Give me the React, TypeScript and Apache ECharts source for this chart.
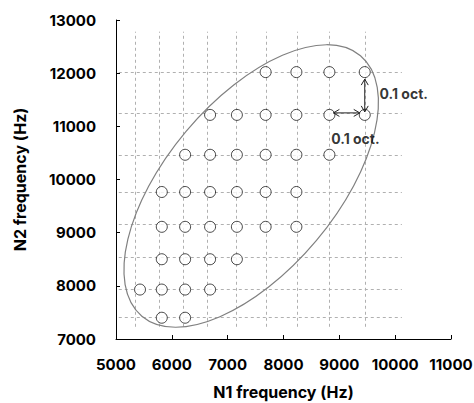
import React, { useEffect, useRef } from "react";
import * as echarts from "echarts";

// N1 column values (Hz) and N2 row values (Hz) of the stimulus grid
const n1Cols = [5430, 5820, 6238, 6685, 7165, 7680, 8231, 8822, 9455];
const n2Rows = [7400, 7930, 8500, 9110, 9765, 10465, 11215, 12020];
// which columns are present in each row
const rowColumns = [
  [1, 2],
  [0, 1, 2, 3],
  [1, 2, 3, 4],
  [1, 2, 3, 4, 5, 6],
  [1, 2, 3, 4, 5, 6],
  [2, 3, 4, 5, 6, 7],
  [3, 4, 5, 6, 7, 8],
  [5, 6, 7, 8],
];
// dashed guide lines
const gridX = [5340, 5775, 6205, 6630, 7160, 7700, 8240, 8820, 9460];
const gridY = [7410, 7940, 8540, 9150, 9760, 10460, 11240, 12025];
const gridXRange = [7230, 12780];
const gridYRange = [5050, 10120];
// axis ticks
const xTicks = { min: 5000, max: 11000, interval: 1000 };
const yTicks = { min: 7000, max: 13000, interval: 1000 };
// annotation arrows [x1, y1, x2, y2]
const arrows = [
  [9455, 12020, 9455, 11215],
  [8822, 11215, 9455, 11215],
];
const arrowLabels = [
  [9720, 11621, "0.1 oct."],
  [8855, 10775, "0.1 oct."],
];
// ellipse centre (data)
const ellipseCenter = [7421, 9878];

const FONT = "Inter, 'Liberation Sans', Arial, sans-serif";

export default function App() {
  const ref = useRef<HTMLDivElement>(null);
  useEffect(() => {
    document.body.style.margin = "0";
    const chart = echarts.init(ref.current!, undefined, { renderer: "svg" });
    const points: number[][] = [];
    rowColumns.forEach((cols, r) => {
      cols.forEach((c) => points.push([n1Cols[c], n2Rows[r]]));
    });
    const gridLines = [
      ...gridX.map((x) => ({ coords: [[x, gridXRange[0]], [x, gridXRange[1]]] })),
      ...gridY.map((y) => ({ coords: [[gridYRange[0], y], [gridYRange[1], y]] })),
    ];
    const axisCommon = {
      type: "value" as const,
      nameLocation: "middle" as const,
      splitLine: { show: false },
      axisLine: { show: true, lineStyle: { color: "#000", width: 1 } },
      axisTick: { show: true, inside: true, length: 4, lineStyle: { color: "#000" } },
      axisLabel: {
        color: "#000",
        fontFamily: FONT,
        fontWeight: "bold" as const,
        fontSize: 15,
        formatter: (v: number) => String(v),
      },
      nameTextStyle: { color: "#000", fontFamily: FONT, fontWeight: "bold" as const, fontSize: 16 },
    };
    chart.setOption({
      animation: false,
      grid: { left: 116, right: 23, top: 20, bottom: 64, outerBoundsMode: "none", containLabel: false },
      xAxis: {
        ...axisCommon,
        ...xTicks,
        name: "N1 frequency (Hz)",
        nameGap: 45,
        axisLabel: { ...axisCommon.axisLabel, margin: 18 },
      },
      yAxis: {
        ...axisCommon,
        ...yTicks,
        name: "N2 frequency (Hz)",
        nameGap: 88,
        axisLabel: { ...axisCommon.axisLabel, margin: 20 },
      },
      series: [
        {
          type: "lines",
          coordinateSystem: "cartesian2d",
          silent: true,
          z: 1,
          symbol: "none",
          lineStyle: { color: "#b0b0b0", width: 1, type: [3, 3], opacity: 1 },
          data: gridLines,
        },
        {
          type: "scatter",
          z: 3,
          symbol: "circle",
          symbolSize: 11,
          itemStyle: { color: "#fff", borderColor: "#000", borderWidth: 0.9 },
          data: points,
        },
        {
          type: "custom",
          z: 4,
          silent: true,
          data: [ellipseCenter],
          renderItem: (params: any, api: any) => {
            const p = api.coord([api.value(0), api.value(1)]);
            return {
              type: "ellipse",
              x: p[0],
              y: p[1],
              rotation: (50 * Math.PI) / 180,
              shape: { cx: 0, cy: 0, rx: 170, ry: 85 },
              style: { fill: "none", stroke: "#808080", lineWidth: 1.2 },
            };
          },
        },
        {
          type: "custom",
          z: 5,
          silent: true,
          data: arrows,
          encode: { x: [0, 2], y: [1, 3] },
          renderItem: (params: any, api: any) => {
            const a = api.coord([api.value(0), api.value(1)]);
            const b = api.coord([api.value(2), api.value(3)]);
            const dx = b[0] - a[0];
            const dy = b[1] - a[1];
            const len = Math.sqrt(dx * dx + dy * dy);
            const ux = dx / len;
            const uy = dy / len;
            const horizontal = Math.abs(uy) < 0.5;
            const s0 = horizontal ? 4 : 7;
            const s1 = horizontal ? 5 : 3;
            const off = horizontal ? -2 : 0;
            const p0 = [a[0] + ux * s0, a[1] + uy * s0 + off];
            const p1 = [b[0] - ux * s1, b[1] - uy * s1 + off];
            const L = 6;
            const W = 3.5;
            const nx = -uy;
            const ny = ux;
            const head = (t: number[], dirx: number, diry: number) => [
              [t[0] - dirx * L + nx * W, t[1] - diry * L + ny * W],
              t,
              [t[0] - dirx * L - nx * W, t[1] - diry * L - ny * W],
            ];
            const st = { stroke: "#222", lineWidth: 1, fill: "none" };
            return {
              type: "group",
              children: [
                { type: "line", shape: { x1: p0[0], y1: p0[1], x2: p1[0], y2: p1[1] }, style: st },
                { type: "polyline", shape: { points: head(p1, ux, uy) }, style: st },
                { type: "polyline", shape: { points: head(p0, -ux, -uy) }, style: st },
              ],
            };
          },
        },
        {
          type: "scatter",
          z: 6,
          symbolSize: 0,
          silent: true,
          data: arrowLabels.map((d) => ({ value: [d[0], d[1]], name: d[2] })),
          label: {
            show: true,
            position: "right",
            distance: 0,
            formatter: (p: any) => p.name,
            color: "#000",
            fontFamily: FONT,
            fontWeight: "bold",
            fontSize: 14,
          },
        },
      ],
    });
    return () => chart.dispose();
  }, []);
  return <div ref={ref} style={{ width: 474, height: 403 }} />;
}
